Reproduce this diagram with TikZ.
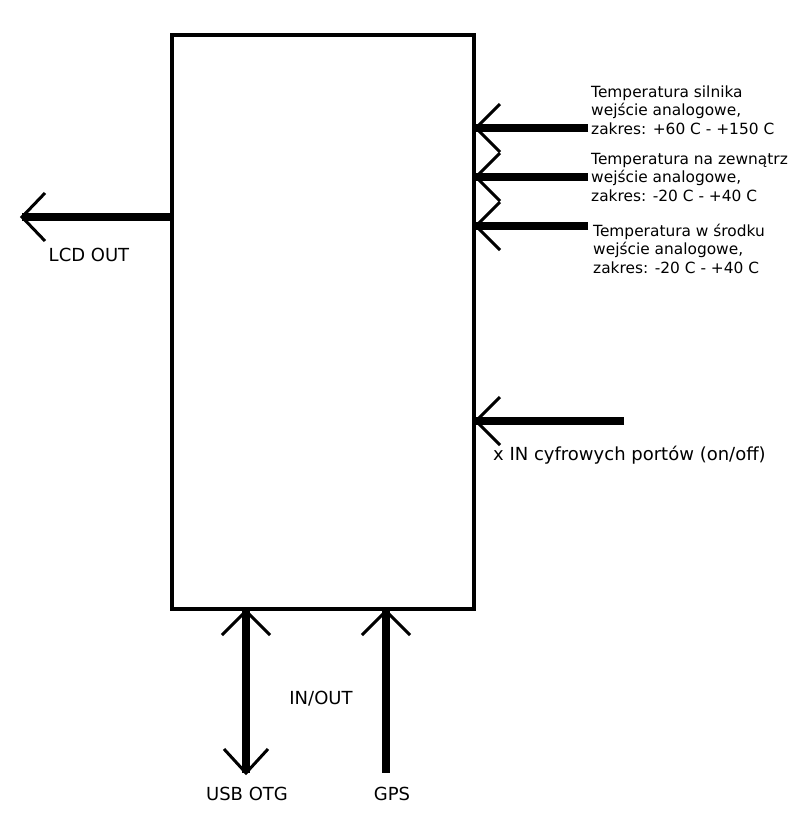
\documentclass[tikz,border=0pt]{standalone}
\usepackage{fontspec}
\setmainfont{DejaVu Sans}
\begin{document}
\begin{tikzpicture}[x=1pt,y=-1pt,
  shaft/.style={line width=8pt},
  arm/.style={line width=3pt},
  lbl/.style={inner sep=0pt, font=\fontsize{18}{19}\selectfont},
  blk/.style={inner sep=0pt, align=left, anchor=base west, font=\fontsize{15.4}{18.3}\selectfont}]
\useasboundingbox (0,0) rectangle (800,820);
\fill[white] (0,0) rectangle (800,820);
\node[draw, line width=4pt, minimum width=302pt, minimum height=574pt, inner sep=0pt] (box) at (323,322) {};
% LCD OUT
\coordinate (lcdtip) at (22,217);
\draw[shaft] (box.west |- lcdtip) -- (lcdtip);
\draw[arm] (lcdtip) ++(23,-24) -- (lcdtip) -- ++(23,24);
\node[lbl, anchor=base] (lcd) at (89,261) {LCD OUT};
% right inputs
\foreach \n/\y/\e in {a/128/588, b/177/588, c/226/588, d/421/624}{
  \coordinate (t\n) at (476,\y);
  \coordinate (e\n) at (\e,\y);
  \draw[shaft] (e\n) -- (box.east |- t\n);
  \draw[arm] (t\n) ++(24,-24) -- (t\n) -- ++(24,24);
}
\node[blk] (ta) at (591,134) {Temperatura silnika\\wejście analogowe,\\zakres: +60 C - +150 C};
\node[blk] (tb) at (591,201) {Temperatura na zewnątrz\\wejście analogowe,\\zakres: -20 C - +40 C};
\node[blk] (tc) at (593,273) {Temperatura w środku\\wejście analogowe,\\zakres: -20 C - +40 C};
\node[lbl, anchor=base west] (dig) at (493,460) {x IN cyfrowych portów (on/off)};
% bottom
\coordinate (ut) at (246,611);
\coordinate (ub) at (246,773);
\draw[shaft] (box.south -| ut) -- (ub);
\draw[arm] (ut) ++(-24,24) -- (ut) -- ++(24,24);
\draw[arm] (ub) ++(-22,-24) -- (ub) -- ++(22,-24);
\coordinate (gt) at (386,611);
\coordinate (gb) at (386,773);
\draw[shaft] (box.south -| gt) -- (gb);
\draw[arm] (gt) ++(-24,24) -- (gt) -- ++(24,24);
\node[lbl, anchor=base] (io) at (321,704) {IN/OUT};
\node[lbl, anchor=base] (usb) at (247,800) {USB OTG};
\node[lbl, anchor=base] (gps) at (392,800) {GPS};
\end{tikzpicture}
\end{document}
